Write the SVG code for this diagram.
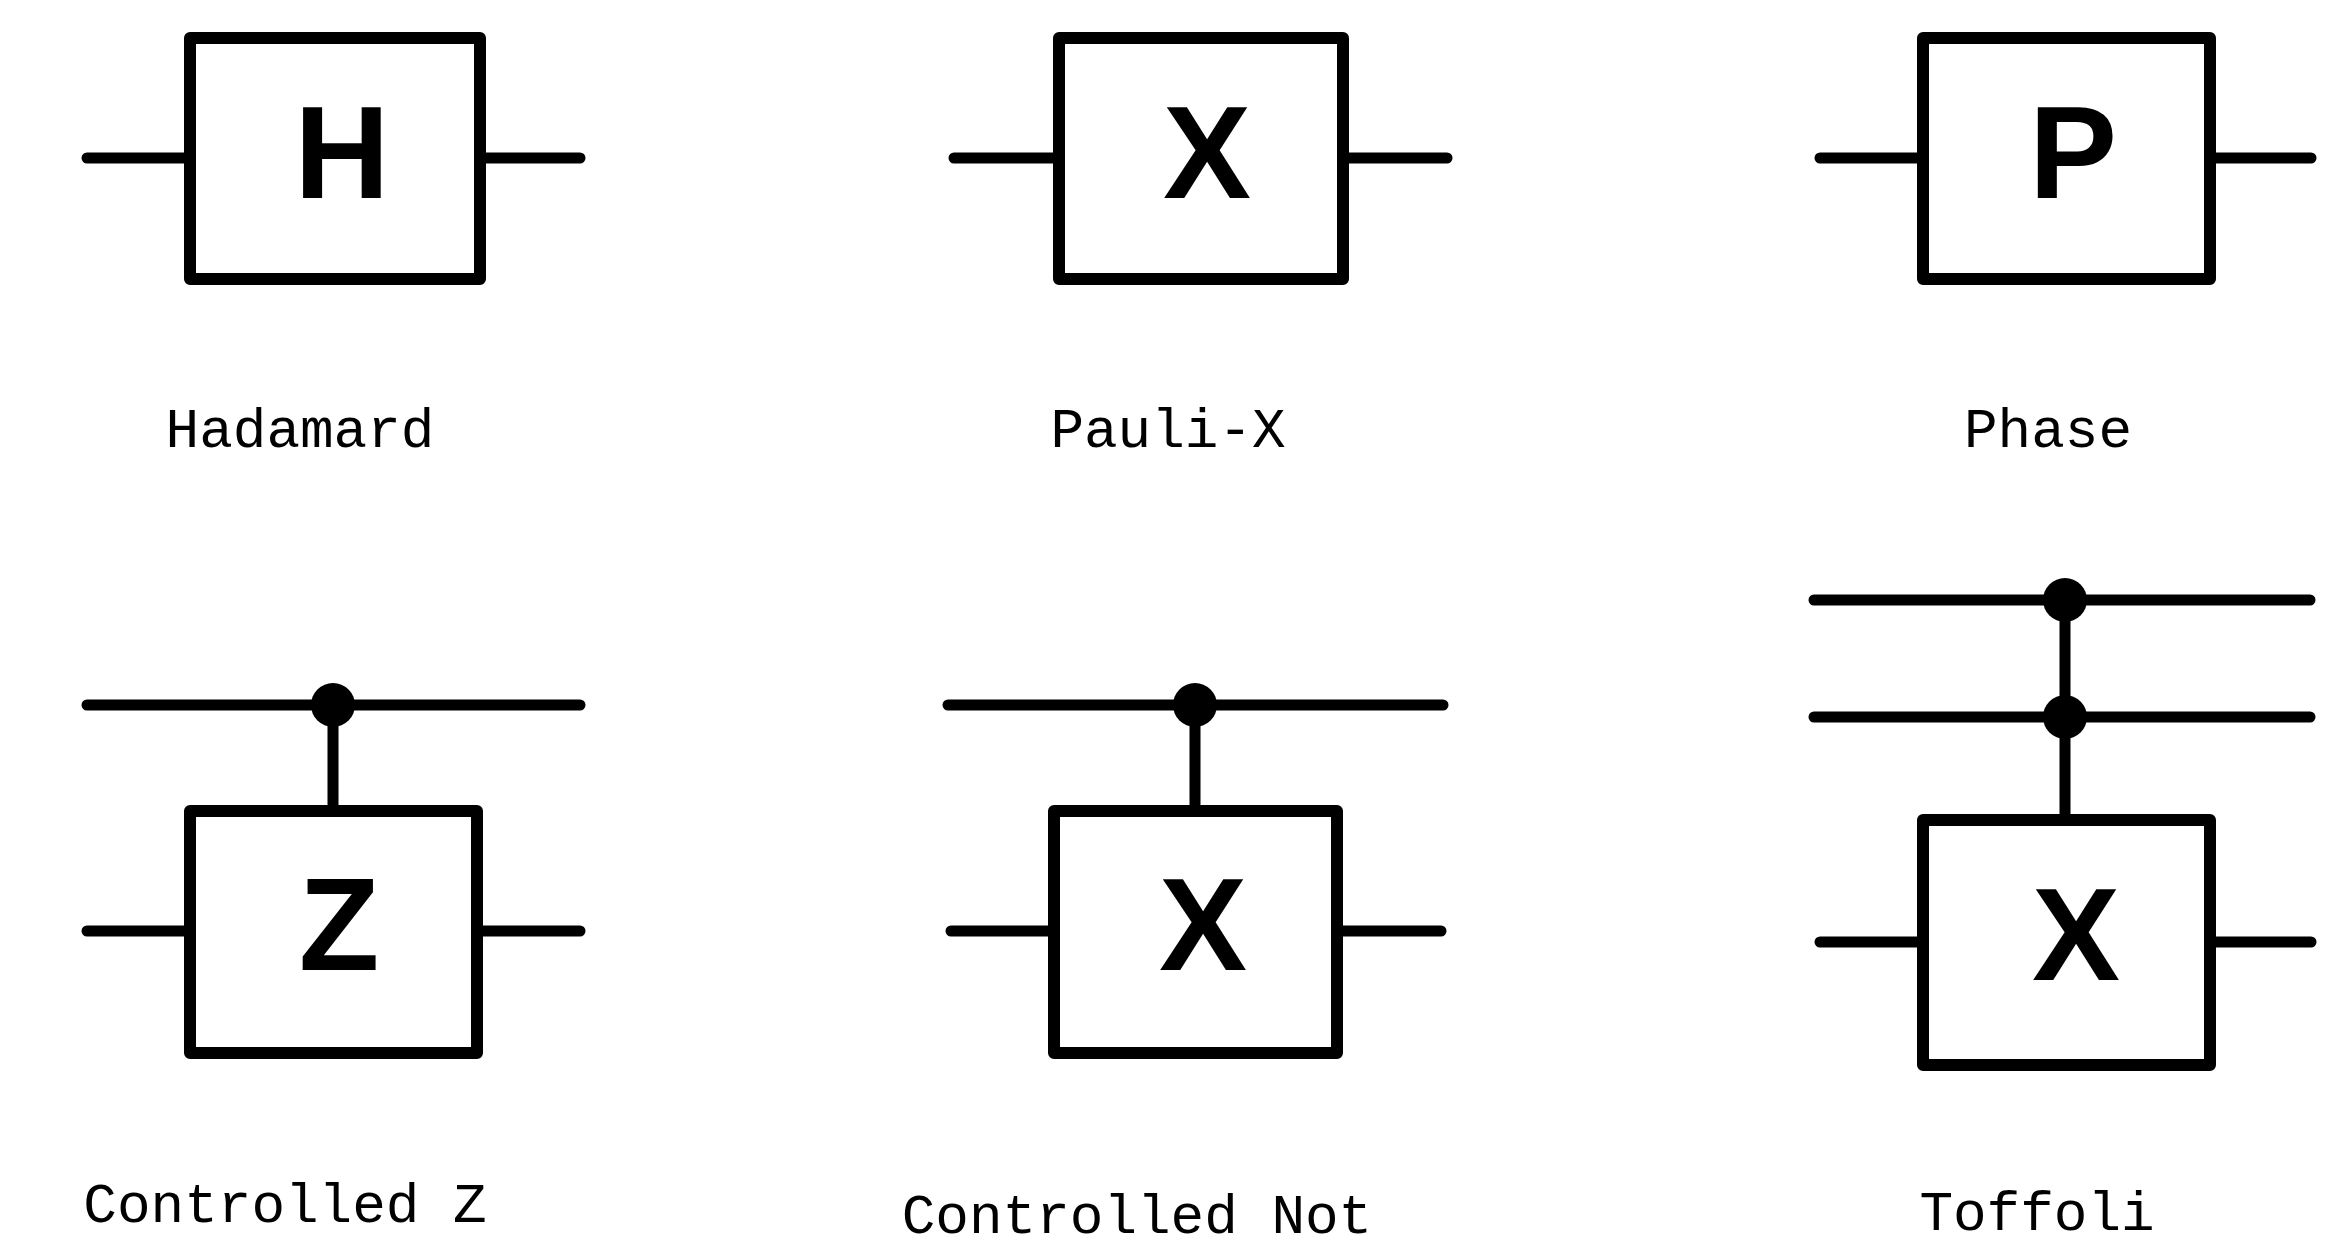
<svg xmlns="http://www.w3.org/2000/svg" width="2349" height="1250" viewBox="0 0 2349 1250">
<style>
.w{stroke:#000;stroke-width:11;stroke-linecap:round;fill:none}
.b{stroke:#000;stroke-width:12;fill:#fff;stroke-linejoin:round}
.g{font-family:"Liberation Sans",Arial,sans-serif;font-weight:bold;font-size:132px;text-anchor:middle}
.l{font-family:"Liberation Mono","DejaVu Sans Mono",monospace;font-size:56px;text-anchor:middle}
</style>
<g id="connectors">
<line class="w" x1="87" y1="158" x2="190" y2="158"/><line class="w" x1="480" y1="158" x2="580" y2="158"/>
<line class="w" x1="954" y1="158" x2="1059" y2="158"/><line class="w" x1="1343" y1="158" x2="1447" y2="158"/>
<line class="w" x1="1820" y1="158" x2="1923" y2="158"/><line class="w" x1="2210" y1="158" x2="2311" y2="158"/>
<line class="w" x1="87" y1="705" x2="580" y2="705"/><line class="w" x1="333" y1="705" x2="333" y2="811"/>
<line class="w" x1="87" y1="931" x2="190" y2="931"/><line class="w" x1="477" y1="931" x2="580" y2="931"/>
<line class="w" x1="948" y1="705" x2="1443" y2="705"/><line class="w" x1="1195" y1="705" x2="1195" y2="811"/>
<line class="w" x1="951" y1="931" x2="1054" y2="931"/><line class="w" x1="1337" y1="931" x2="1441" y2="931"/>
<line class="w" x1="1814" y1="600" x2="2310" y2="600"/><line class="w" x1="1814" y1="717" x2="2310" y2="717"/>
<line class="w" x1="2065" y1="600" x2="2065" y2="820"/>
<line class="w" x1="1820" y1="942" x2="1923" y2="942"/><line class="w" x1="2210" y1="942" x2="2311" y2="942"/>
<circle cx="333" cy="705" r="22"/><circle cx="1195" cy="705" r="22"/>
<circle cx="2065" cy="600" r="22"/><circle cx="2065" cy="717" r="22"/>
</g>
<g id="hadamard"><rect class="b" x="190" y="38" width="290" height="241"/><text class="g" x="342" y="198">H</text><text class="l" x="300" y="447">Hadamard</text></g>
<g id="paulix"><rect class="b" x="1059" y="38" width="284" height="241"/><text class="g" x="1207" y="198">X</text><text class="l" x="1168" y="447">Pauli-X</text></g>
<g id="phase"><rect class="b" x="1923" y="38" width="287" height="241"/><text class="g" x="2073" y="198">P</text><text class="l" x="2048" y="447">Phase</text></g>
<g id="cz"><rect class="b" x="190" y="811" width="287" height="242"/><text class="g" x="339" y="970">Z</text><text class="l" x="285" y="1222">Controlled Z</text></g>
<g id="cnot"><rect class="b" x="1054" y="811" width="283" height="242"/><text class="g" x="1203" y="970">X</text><text class="l" x="1137" y="1233">Controlled Not</text></g>
<g id="toffoli"><rect class="b" x="1923" y="820" width="287" height="245"/><text class="g" x="2076" y="980">X</text><text class="l" x="2037" y="1230">Toffoli</text></g>
</svg>
